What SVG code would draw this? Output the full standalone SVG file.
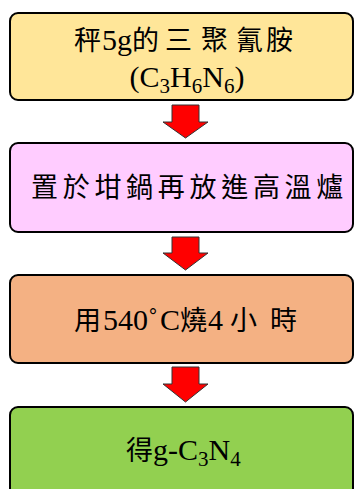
<svg xmlns="http://www.w3.org/2000/svg" width="355" height="489" viewBox="0 0 355 489">
<style>
.box{stroke:#000;stroke-width:2}
.t{font-family:"Liberation Serif","Noto Sans CJK TC",serif;font-size:30px;fill:#000}
.c{font-family:"Noto Sans CJK TC","Liberation Serif",sans-serif;font-size:27px}
.s{font-size:21px}
.arrow{fill:#FF0000;stroke:#333;stroke-width:1}
</style>
<rect width="355" height="489" fill="#fff"/>
<g id="n1">
<rect class="box" x="10" y="13" width="343" height="87" rx="8" fill="#FFE699"/>
<text class="t" y="50"><tspan class="c" x="74">秤</tspan><tspan x="102">5g</tspan><tspan class="c" x="132">的</tspan><tspan class="c" x="165">三</tspan><tspan class="c" x="201">聚</tspan><tspan class="c" x="236">氰</tspan><tspan class="c" x="266">胺</tspan></text>
<text class="t" x="187" y="87" text-anchor="middle">(C<tspan class="s" dy="6">3</tspan><tspan dy="-6">H</tspan><tspan class="s" dy="6">6</tspan><tspan dy="-6">N</tspan><tspan class="s" dy="6">6</tspan><tspan dy="-6">)</tspan></text>
</g>
<g id="n2">
<rect class="box" x="10" y="143" width="343" height="89" rx="8" fill="#FFCCFF"/>
<text class="t c" y="197"><tspan x="31">置</tspan><tspan x="62.7">於</tspan><tspan x="94.4">坩</tspan><tspan x="126.1">鍋</tspan><tspan x="157.8">再</tspan><tspan x="189.5">放</tspan><tspan x="221.2">進</tspan><tspan x="252.9">高</tspan><tspan x="284.6">溫</tspan><tspan x="316.3">爐</tspan></text>
</g>
<g id="n3">
<rect class="box" x="10" y="275" width="343" height="88" rx="8" fill="#F4B183"/>
<text class="t" y="330"><tspan class="c" x="74">用</tspan><tspan x="103">540</tspan><tspan x="148">˚</tspan><tspan x="160">C</tspan><tspan class="c" x="180">燒</tspan><tspan x="208">4</tspan><tspan class="c" x="230">小</tspan><tspan class="c" x="270">時</tspan></text>
</g>
<g id="n4">
<rect class="box" x="10" y="407" width="343" height="100" rx="8" fill="#92D050"/>
<text class="t" y="460"><tspan class="c" x="126">得</tspan><tspan x="153">g-C</tspan><tspan class="s" dy="6">3</tspan><tspan dy="-6">N</tspan><tspan class="s" dy="6">4</tspan></text>
</g>
<g id="connectors">
<polygon class="arrow" points="172,105 199,105 199,122 208,122 185.5,138 163,122 172,122"/>
<polygon class="arrow" points="172,237 199,237 199,253 208,253 185.5,270 163,253 172,253"/>
<polygon class="arrow" points="172,367 199,367 199,384 208,384 185.5,402 163,384 172,384"/>
</g>
</svg>
